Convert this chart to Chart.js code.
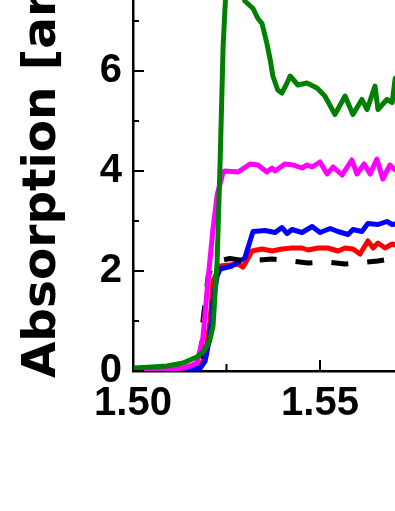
<!DOCTYPE html>
<html>
<head>
<meta charset="utf-8">
<script src="https://cdn.jsdelivr.net/npm/chart.js@4.4.1/dist/chart.umd.min.js"></script>
<style>
  html, body { margin: 0; padding: 0; background: #fff; overflow: hidden; width: 395px; height: 511px; }
  #wrap { position: absolute; left: 0; top: -164px; width: 567px; height: 605px; }
</style>
</head>
<body>
<div id="wrap"><canvas id="c" width="567" height="605"></canvas></div>
<script>
// ---- data (photon energy in eV vs absorption, arb. units) ----
const greenX = [1.500, 1.505, 1.5091, 1.5134, 1.5171, 1.5190, 1.5205, 1.5214, 1.5225, 1.5233, 1.5241, 1.5251, 1.5265, 1.5286, 1.5299, 1.5321, 1.5334, 1.5345, 1.5358, 1.5367, 1.5374, 1.5387, 1.5398, 1.5412, 1.5420, 1.5441, 1.5465, 1.5492, 1.5513, 1.5540, 1.5567, 1.5588, 1.5612, 1.5626, 1.5647, 1.5655, 1.5679, 1.5693, 1.5701, 1.5710];
const greenY = [0.06, 0.08, 0.10, 0.16, 0.28, 0.40, 0.60, 0.90, 2.2, 4.2, 6.5, 8.0, 8.2, 7.9, 7.4, 7.25, 7.05, 6.95, 6.55, 6.22, 5.9, 5.62, 5.56, 5.76, 5.9, 5.72, 5.76, 5.66, 5.5, 5.13, 5.5, 5.13, 5.43, 5.23, 5.7, 5.23, 5.43, 5.37, 5.85, 5.9];

const magentaX = [1.500, 1.505, 1.510, 1.5134, 1.5152, 1.5171, 1.5187, 1.5201, 1.5214, 1.5225, 1.5241, 1.5246, 1.5281, 1.5313, 1.5334, 1.5358, 1.5372, 1.5380, 1.5406, 1.5428, 1.5452, 1.5465, 1.5479, 1.5500, 1.5519, 1.5535, 1.5559, 1.5585, 1.5599, 1.5618, 1.5634, 1.5652, 1.5668, 1.5687, 1.5701, 1.5710];
const magentaY = [0.00, 0.01, 0.03, 0.06, 0.10, 0.16, 0.67, 1.86, 2.85, 3.52, 3.98, 4.00, 3.98, 4.14, 4.12, 3.98, 4.06, 4.00, 4.14, 4.12, 4.06, 4.12, 4.08, 4.18, 3.94, 4.08, 3.92, 4.22, 3.94, 4.14, 3.94, 4.24, 3.84, 4.12, 4.02, 4.00];

const blackX = [1.500, 1.510, 1.515, 1.518, 1.5187, 1.5201, 1.5214, 1.5227, 1.5259, 1.5300, 1.5372, 1.5420, 1.5468, 1.5520, 1.5567, 1.5610, 1.5655, 1.5687, 1.5710];
const blackY = [0.00, 0.02, 0.06, 0.20, 1.00, 1.90, 2.15, 2.20, 2.25, 2.20, 2.24, 2.20, 2.16, 2.18, 2.14, 2.17, 2.20, 2.24, 2.22];

const blueX = [1.500, 1.510, 1.515, 1.518, 1.5193, 1.5206, 1.5214, 1.5225, 1.5233, 1.5265, 1.5299, 1.5313, 1.5321, 1.5353, 1.5380, 1.5398, 1.5412, 1.5425, 1.5452, 1.5479, 1.5500, 1.5527, 1.5548, 1.5575, 1.5588, 1.5612, 1.5628, 1.5655, 1.5679, 1.5693, 1.5710];
const blueY = [0.00, 0.00, 0.02, 0.06, 0.20, 0.70, 1.40, 1.90, 2.04, 2.10, 2.26, 2.60, 2.79, 2.81, 2.77, 2.87, 2.75, 2.83, 2.77, 2.89, 2.77, 2.85, 2.79, 2.73, 2.83, 2.79, 2.95, 2.93, 2.99, 2.93, 2.95];

const redX = [1.500, 1.510, 1.515, 1.518, 1.5193, 1.5206, 1.5214, 1.5233, 1.5259, 1.5281, 1.5294, 1.5299, 1.5318, 1.5345, 1.5372, 1.5398, 1.5425, 1.5452, 1.5468, 1.5495, 1.5521, 1.5548, 1.5567, 1.5588, 1.5607, 1.5628, 1.5642, 1.5655, 1.5674, 1.5693, 1.5710];
const redY = [0.00, 0.01, 0.03, 0.10, 0.30, 1.00, 1.80, 2.10, 2.12, 2.14, 2.08, 2.14, 2.40, 2.44, 2.40, 2.44, 2.46, 2.46, 2.42, 2.46, 2.46, 2.40, 2.46, 2.44, 2.34, 2.60, 2.46, 2.56, 2.46, 2.54, 2.50];

const xTickValues = [1.50, 1.55, 1.60];
const yTickValues = [0, 2, 4, 6, 8, 10];
const yTitle = 'Absorption [arb. units]';

function pts(xs, ys) { return xs.map((x, i) => ({ x: x, y: ys[i] })); }

const tickFont = { family: '"Liberation Sans", Arial, sans-serif', weight: 'bold', size: 40 };

const innerTicks = {
  id: 'innerTicks',
  afterDraw(chart) {
    const ctx = chart.ctx, a = chart.chartArea;
    const xs = chart.scales.x, ys = chart.scales.y;
    ctx.save();
    ctx.strokeStyle = '#000';
    ctx.lineWidth = 2;
    ys.ticks.forEach(t => {
      const major = yTickValues.some(v => Math.abs(v - t.value) < 1e-6);
      const p = ys.getPixelForValue(t.value);
      ctx.beginPath();
      ctx.moveTo(a.left, p);
      ctx.lineTo(a.left + (major ? 11 : 6), p);
      ctx.stroke();
    });
    xs.ticks.forEach(t => {
      const major = xTickValues.some(v => Math.abs(v - t.value) < 1e-6);
      const p = xs.getPixelForValue(t.value);
      ctx.beginPath();
      ctx.moveTo(p, a.bottom);
      ctx.lineTo(p, a.bottom - (major ? 11 : 7));
      ctx.stroke();
    });
    // y axis title
    ctx.fillStyle = '#000';
    ctx.font = 'bold 47px "DejaVu Sans"';
    ctx.textAlign = 'left';
    ctx.textBaseline = 'alphabetic';
    ctx.translate(55, a.bottom + 7);
    ctx.rotate(-Math.PI / 2);
    ctx.fillText(yTitle, 0, 0);
    ctx.restore();
  }
};

const common = { fill: false, tension: 0, pointRadius: 0, borderWidth: 5, borderJoinStyle: 'round' };

new Chart(document.getElementById('c'), {
  type: 'line',
  data: {
    datasets: [
      Object.assign({ label: 'green', data: pts(greenX, greenY), borderColor: '#008000' }, common),
      Object.assign({ label: 'magenta', data: pts(magentaX, magentaY), borderColor: '#ff00ff' }, common),
      Object.assign({ label: 'black', data: pts(blackX, blackY), borderColor: '#000000', borderDash: [17, 19] }, common),
      Object.assign({ label: 'blue', data: pts(blueX, blueY), borderColor: '#0000ff' }, common),
      Object.assign({ label: 'red', data: pts(redX, redY), borderColor: '#ff0000' }, common)
    ]
  },
  options: {
    responsive: false,
    animation: false,
    devicePixelRatio: 1,
    layout: { padding: { top: 30, right: 60, left: 0, bottom: 0 } },
    plugins: { legend: { display: false }, tooltip: { enabled: false } },
    scales: {
      x: {
        type: 'linear', min: 1.50, max: 1.60,
        afterFit: s => { s.height = 70; },
        grid: { display: false, drawTicks: false },
        border: { display: true, color: '#000', width: 2.5 },
        ticks: {
          stepSize: 0.025, autoSkip: false, maxRotation: 0, padding: 9, color: '#000', font: tickFont,
          callback: v => xTickValues.some(t => Math.abs(t - v) < 1e-6) ? v.toFixed(2) : ''
        }
      },
      y: {
        type: 'linear', min: 0, max: 10,
        afterFit: s => { s.width = 133; },
        grid: { display: false, drawTicks: false },
        border: { display: true, color: '#000', width: 2.5 },
        ticks: {
          stepSize: 1, autoSkip: false, padding: 11, color: '#000', font: tickFont,
          callback: v => yTickValues.some(t => Math.abs(t - v) < 1e-6) ? String(v) : ''
        }
      }
    }
  },
  plugins: [innerTicks]
});
</script>
</body>
</html>
